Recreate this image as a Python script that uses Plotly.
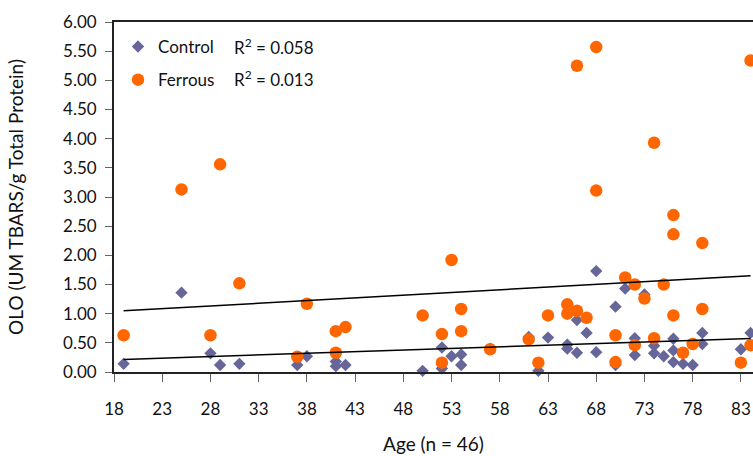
import numpy as np
import plotly.graph_objects as go

# Age of each donor and OLO (UM TBARS/g total protein) readings
control_age = [19, 25, 28, 29, 31, 37, 38, 41, 41, 42, 50, 52, 52, 53, 54, 54,
               57, 61, 62, 63, 65, 65, 66, 66, 67, 68, 68, 70, 70, 71, 72, 72,
               73, 74, 74, 75, 76, 76, 76, 77, 78, 79, 79, 83, 84]
control_olo = [0.14, 1.36, 0.32, 0.12, 0.14, 0.12, 0.27, 0.18, 0.10, 0.12, 0.02, 0.42, 0.06, 0.27, 0.30, 0.12,
               0.40, 0.60, 0.02, 0.59, 0.47, 0.40, 0.89, 0.33, 0.67, 1.73, 0.34, 1.12, 0.12, 1.43, 0.58, 0.29,
               1.33, 0.45, 0.32, 0.27, 0.57, 0.37, 0.17, 0.14, 0.12, 0.67, 0.48, 0.39, 0.67]

ferrous_age = [19, 25, 28, 29, 31, 37, 38, 41, 41, 42, 50, 52, 52, 53, 54, 54,
               57, 61, 62, 63, 65, 65, 66, 66, 67, 68, 68, 70, 70, 71, 72, 72,
               73, 74, 74, 75, 76, 76, 76, 77, 78, 79, 79, 83, 84, 84]
ferrous_olo = [0.63, 3.13, 0.63, 3.56, 1.52, 0.26, 1.17, 0.70, 0.33, 0.77, 0.97, 0.65, 0.16, 1.92, 1.08, 0.70,
               0.39, 0.56, 0.16, 0.97, 1.16, 1.00, 5.25, 1.05, 0.93, 5.57, 3.11, 0.63, 0.17, 1.62, 1.50, 0.46,
               1.26, 3.93, 0.58, 1.50, 2.69, 2.36, 0.97, 0.33, 0.48, 2.21, 1.08, 0.16, 5.34, 0.46]

r2_labels = ["R<sup>2</sup> = 0.058", "R<sup>2</sup> = 0.013"]

y_ticks = [0, 0.5, 1, 1.5, 2, 2.5, 3, 3.5, 4, 4.5, 5, 5.5, 6]
x_ticks = [18, 23, 28, 33, 38, 43, 48, 53, 58, 63, 68, 73, 78, 83]

FONT = "Lato, Calibri, Carlito, sans-serif"
TEXT_COLOR = "#111"
CONTROL_COLOR = "#666699"
FERROUS_COLOR = "#FF6600"


def trend(xs, ys):
    slope, intercept = np.polyfit(xs, ys, 1)
    x_line = np.array([min(xs), max(xs)])
    return x_line, slope * x_line + intercept


fig = go.Figure()

fig.add_trace(go.Scatter(
    x=control_age, y=control_olo, mode="markers", name="Control",
    legendgroup="c",
    marker=dict(symbol="diamond", size=9.5, color=CONTROL_COLOR),
    cliponaxis=False,
))
fig.add_trace(go.Scatter(
    x=ferrous_age, y=ferrous_olo, mode="markers", name="Ferrous",
    legendgroup="f",
    marker=dict(symbol="circle", size=12.5, color=FERROUS_COLOR),
    cliponaxis=False,
))

for xs, ys in [(control_age, control_olo), (ferrous_age, ferrous_olo)]:
    lx, ly = trend(xs, ys)
    fig.add_trace(go.Scatter(
        x=lx, y=ly, mode="lines", showlegend=False, hoverinfo="skip",
        line=dict(color="black", width=1.5),
    ))

for label, ypix in zip(r2_labels, [47, 79]):
    fig.add_annotation(
        text=label, xref="paper", yref="paper",
        x=(232 - 114) / (753 - 114), y=1 - (ypix - 22) / (372 - 22),
        xanchor="left", yanchor="middle", showarrow=False,
        font=dict(family=FONT, size=17, color=TEXT_COLOR),
    )

fig.update_layout(
    width=753, height=456,
    margin=dict(l=114, r=0, t=22, b=84),
    paper_bgcolor="white", plot_bgcolor="white",
    font=dict(family=FONT, size=17, color=TEXT_COLOR),
    showlegend=True,
    legend=dict(
        x=(118 - 114) / (753 - 114), y=1 - (29 - 22) / (372 - 22),
        xanchor="left", yanchor="top",
        font=dict(family=FONT, size=17, color=TEXT_COLOR),
        bgcolor="rgba(0,0,0,0)", tracegroupgap=8,
        itemwidth=30,
    ),
    xaxis=dict(
        range=[18, 18 + (753 - 114.3) / 9.64],
        tickvals=x_ticks, ticks="outside", ticklen=8, tickwidth=1.2,
        tickcolor="#666", ticklabelstandoff=13,
        showline=True, linecolor="#222", linewidth=1.8, mirror=True,
        showgrid=False, zeroline=False,
        title=dict(text="Age (n = 46)", standoff=19,
                   font=dict(family=FONT, size=19)),
    ),
    yaxis=dict(
        range=[0, 6],
        tickvals=y_ticks, tickformat=".2f", ticks="outside", ticklen=7,
        tickwidth=1.2, tickcolor="#666", ticklabelstandoff=5,
        showline=True, linecolor="#222", linewidth=1.8,
        showgrid=False, zeroline=False,
        title=dict(text="OLO (UM TBARS/g Total Protein)", standoff=34,
                   font=dict(family=FONT, size=19)),
    ),
)

fig.write_html("out.html")
